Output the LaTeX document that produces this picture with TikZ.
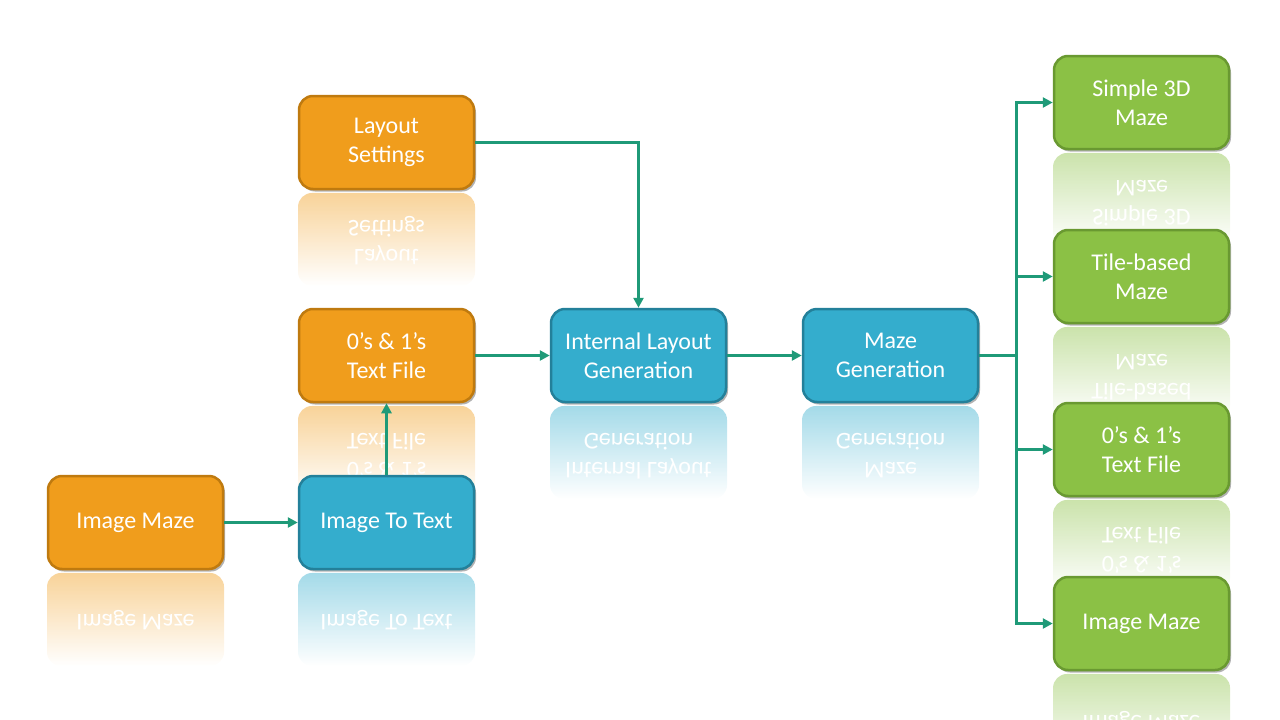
\documentclass[tikz,border=0pt]{standalone}
\usepackage{fontspec}
\setmainfont{Carlito}
\usetikzlibrary{arrows.meta,shadows,fadings}
\definecolor{orfill}{HTML}{F09D1C}
\definecolor{ordraw}{HTML}{BF7A0F}
\definecolor{blfill}{HTML}{34ADCD}
\definecolor{bldraw}{HTML}{23809A}
\definecolor{grfill}{HTML}{8BC145}
\definecolor{grdraw}{HTML}{699931}
\definecolor{conn}{HTML}{1F9A78}
\tikzfading[name=reflfade, top color=transparent!55, middle color=transparent!85, bottom color=transparent!100]
\newcommand{\boxtxtfont}{\fontsize{24}{29}\selectfont}
\newcommand{\mirtxt}[1]{\scalebox{1}[-1]{\begin{tabular}{@{}c@{}}#1\end{tabular}}}
\tikzset{
  basebox/.style={rounded corners=14pt, line width=2.5pt, minimum width=175pt, minimum height=93pt,
    inner sep=0pt, text=white, align=center, font=\boxtxtfont,
    drop shadow={shadow xshift=2pt, shadow yshift=-2.5pt, opacity=0.3, fill=black}},
  orbox/.style={basebox, fill=orfill, draw=ordraw},
  blbox/.style={basebox, fill=blfill, draw=bldraw},
  grbox/.style={basebox, fill=grfill, draw=grdraw},
  reflbox/.style={rounded corners=14pt, path fading=reflfade},
  refltxt/.style={text=white, font=\boxtxtfont, inner sep=0pt},
  connector/.style={line width=3pt, draw=conn},
  arrowed/.style={connector, -{Triangle[length=10pt,width=10pt]}},
}
% reflection: #1 center x, #2 center y, #3 colour, #4 text
\newcommand{\refl}[4]{%
  \fill[reflbox, #3] (#1-88.5, #2+50.5) rectangle (#1+88.5, #2+143.5);
  \node[refltxt] at (#1, #2+98) {\mirtxt{#4}};
}
\begin{document}
\begin{tikzpicture}[x=1pt, y=-1pt]
\useasboundingbox (0,0) rectangle (1280,720);
\clip (0,0) rectangle (1280,720);
% reflections
\refl{386.5}{142.5}{orfill}{Layout\\Settings}
\refl{386.5}{355.5}{orfill}{0’s \& 1’s\\Text File}
\refl{135.5}{522.5}{orfill}{Image Maze}
\refl{386.5}{522.5}{blfill}{Image To Text}
\refl{638.5}{355.5}{blfill}{Internal Layout\\Generation}
\refl{890.5}{355.5}{blfill}{Maze\\Generation}
\refl{1141.5}{102.5}{grfill}{Simple 3D\\Maze}
\refl{1141.5}{276.5}{grfill}{Tile-based\\Maze}
\refl{1141.5}{449.5}{grfill}{0’s \& 1’s\\Text File}
\refl{1141.5}{623.5}{grfill}{Image Maze}
% boxes
\node[orbox] (ls) at (386.5,142.5) {Layout\\Settings};
\node[orbox] (tf) at (386.5,355.5) {0’s \& 1’s\\Text File};
\node[orbox] (im) at (135.5,522.5) {Image Maze};
\node[blbox] (itt) at (386.5,522.5) {Image To Text};
\node[blbox] (ilg) at (638.5,355.5) {Internal Layout\\Generation};
\node[blbox] (mg) at (890.5,355.5) {Maze\\Generation};
\node[grbox] (g1) at (1141.5,102.5) {Simple 3D\\Maze};
\node[grbox] (g2) at (1141.5,276.5) {Tile-based\\Maze};
\node[grbox] (g3) at (1141.5,449.5) {0’s \& 1’s\\Text File};
\node[grbox] (g4) at (1141.5,623.5) {Image Maze};
% connectors
\draw[arrowed] (ls.east) -| (ilg.north);
\draw[arrowed] (tf.east) -- (ilg.west);
\draw[arrowed] (im.east) -- (itt.west);
\draw[arrowed] (itt.north) -- (tf.south);
\draw[arrowed] (ilg.east) -- (mg.west);
\coordinate (trunk) at (1016,355.5);
\draw[connector] (mg.east) -- (trunk);
\draw[arrowed] (trunk) |- (g1.west);
\draw[arrowed] (trunk) |- (g2.west);
\draw[arrowed] (trunk) |- (g3.west);
\draw[arrowed] (trunk) |- (g4.west);
\end{tikzpicture}
\end{document}
